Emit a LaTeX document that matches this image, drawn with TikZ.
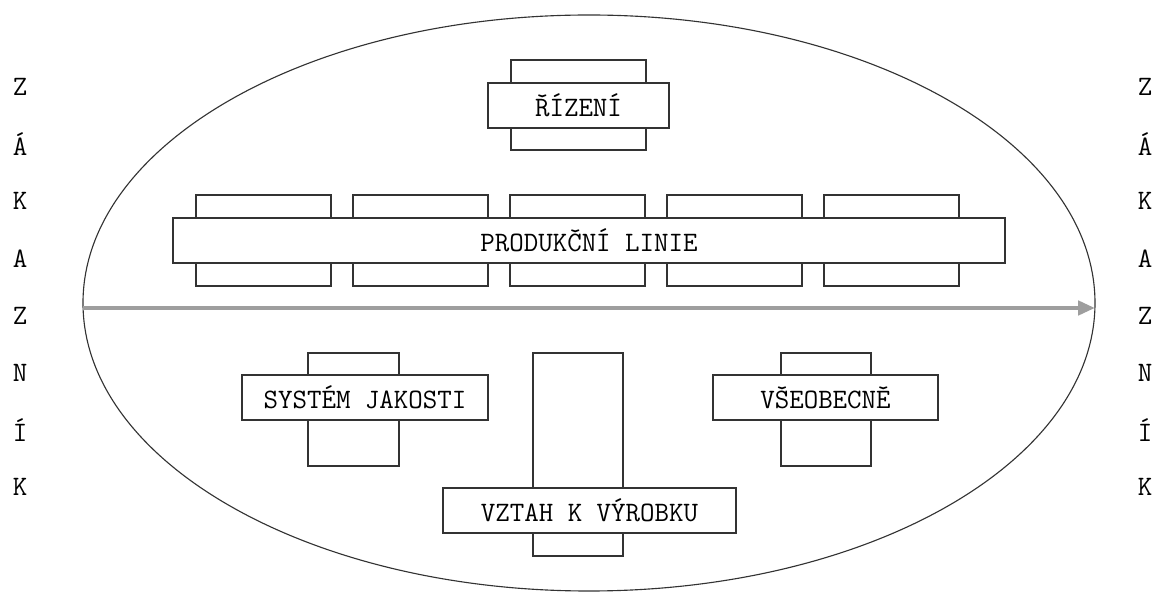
\documentclass[tikz,border=0pt]{standalone}
\usepackage{fontspec}
\usetikzlibrary{arrows.meta, shapes.geometric}
\definecolor{linegray}{HTML}{333333}
\definecolor{flowgray}{HTML}{9E9E9E}

\begin{document}
\begin{tikzpicture}[>=Stealth, font=\ttfamily\fontsize{20}{22}\selectfont,
    backbox/.style={draw=linegray, line width=0.8pt, fill=white, inner sep=0pt},
    labelbox/.style={draw=linegray, line width=0.8pt, fill=white, inner sep=0pt, minimum height=1.125cm}]
    \useasboundingbox (-14.725, -7.175) rectangle (14.2, 7.7);

    % ── Company oval and the flow through it ─────────────────────────
    \node[ellipse, draw=linegray, line width=0.8pt, inner sep=0pt,
          minimum width=25.3cm, minimum height=14.4cm] (podnik) at (0, 0.125) {};
    \coordinate (vstup) at (-12.65, 0);
    \coordinate (vystup) at (12.65, 0);
    \draw[-{Triangle[length=4.2mm, width=3.5mm]}, line width=3pt, flowgray]
        (vstup) -- (vystup);

    % ── Customer on both sides ───────────────────────────────────────
    \foreach \ch [count=\i from 0] in {Z,Á,K,A,Z,N,Í,K}{
        \node (levy\i) at (-14.225, {5.525-1.43*\i}) {\ch};
        \node (pravy\i) at (13.9, {5.525-1.43*\i}) {\ch};
    }

    % ── Management ───────────────────────────────────────────────────
    \node[backbox, minimum width=3.375cm, minimum height=2.25cm] (rizeniback) at (-0.2625, 5.075) {};
    \node[labelbox, minimum width=4.525cm] (rizeni) at (-0.2625, 5.0625) {ŘÍZENÍ};

    % ── Production line with five stations ───────────────────────────
    \foreach \k in {0,...,4}{
        \node[backbox, minimum width=3.375cm, minimum height=2.275cm] (stanice\k)
            at ({-8.1375+3.925*\k}, 1.6875) {};
    }
    \node[labelbox, minimum width=20.8cm] (linka) at (0, 1.6875) {PRODUKČNÍ LINIE};

    % ── Lower half ───────────────────────────────────────────────────
    \node[backbox, minimum width=2.275cm, minimum height=2.825cm] (jakostback) at (-5.8875, -2.5375) {};
    \node[labelbox, minimum width=6.15cm] (jakost) at (-5.6, -2.2375) {SYSTÉM JAKOSTI};

    \node[backbox, minimum width=2.25cm, minimum height=5.075cm] (vyrobekback) at (-0.275, -3.6625) {};
    \node[labelbox, minimum width=7.325cm] (vyrobek) at (0.0125, -5.0625) {VZTAH K VÝROBKU};

    \node[backbox, minimum width=2.25cm, minimum height=2.825cm] (obecneback) at (5.925, -2.5375) {};
    \node[labelbox, minimum width=5.625cm] (obecne) at (5.9125, -2.2375) {VŠEOBECNĚ};
\end{tikzpicture}
\end{document}
